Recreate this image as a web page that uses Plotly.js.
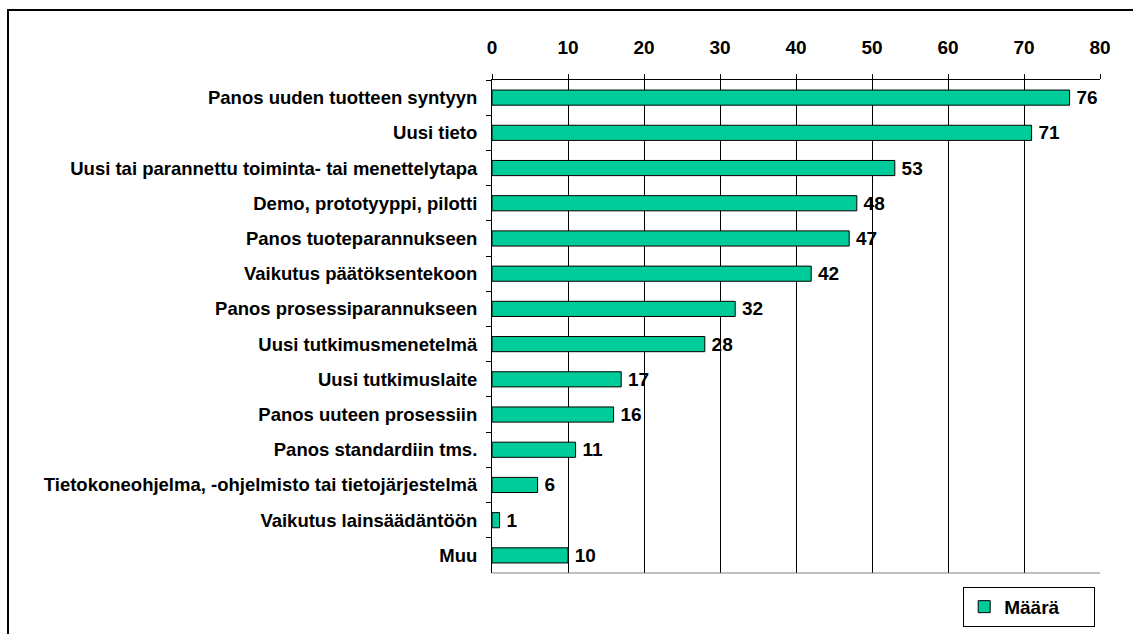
<!DOCTYPE html>
<html>
<head>
<meta charset="utf-8">
<script src="https://cdn.plot.ly/plotly-3.0.1.min.js"></script>
<style>
  html, body { margin: 0; background: #fff; overflow: hidden; }
  #myDiv { width: 1133px; height: 634px; }
  #frame { position: absolute; left: 7px; top: 9px; right: 0; bottom: 0;
           border-left: 2px solid #000; border-top: 2px solid #000; pointer-events: none; }
</style>
</head>
<body>
<div id="myDiv"></div>
<div id="frame"></div>
<script>
var categories = [
  'Panos uuden tuotteen syntyyn',
  'Uusi tieto',
  'Uusi tai parannettu toiminta- tai menettelytapa',
  'Demo, prototyyppi, pilotti',
  'Panos tuoteparannukseen',
  'Vaikutus päätöksentekoon',
  'Panos prosessiparannukseen',
  'Uusi tutkimusmenetelmä',
  'Uusi tutkimuslaite',
  'Panos uuteen prosessiin',
  'Panos standardiin tms.',
  'Tietokoneohjelma, -ohjelmisto tai tietojärjestelmä',
  'Vaikutus lainsäädäntöön',
  'Muu'
];
var counts = [76, 71, 53, 48, 47, 42, 32, 28, 17, 16, 11, 6, 1, 10];

var trace1 = {
  type: 'bar',
  orientation: 'h',
  name: 'Määrä',
  x: counts,
  y: categories,
  text: counts.map(function (v) { return '\u2009' + v; }),
  textposition: 'outside',
  constraintext: 'none',
  cliponaxis: false,
  textfont: { family: 'Liberation Sans, Arial', size: 19, color: '#000', weight: 'bold' },
  marker: { color: '#00CC99', line: { color: '#000', width: 1 } }
};

var layout = {
  width: 1133,
  height: 634,
  margin: { l: 492, r: 33, t: 80, b: 61, autoexpand: false },
  paper_bgcolor: '#fff',
  plot_bgcolor: '#fff',
  font: { family: 'Liberation Sans, Arial', size: 18, color: '#000', weight: 'bold' },
  bargap: 0.57,
  showlegend: true,
  legend: {
    orientation: 'h',
    x: 0.775, xanchor: 'left',
    y: -0.028, yanchor: 'top',
    bordercolor: '#000', borderwidth: 1,
    bgcolor: '#fff',
    font: { size: 19, weight: 'bold' },
    itemwidth: 30,
    entrywidth: 85
  },
  xaxis: {
    side: 'top',
    range: [0, 80],
    dtick: 10,
    showgrid: true,
    gridcolor: '#000',
    gridwidth: 1,
    showline: true,
    linecolor: '#000',
    linewidth: 1,
    ticks: 'outside',
    ticklen: 5,
    tickcolor: '#000',
    ticklabelstandoff: 12,
    tickfont: { size: 19, weight: 'bold' },
    zeroline: false,
    fixedrange: true
  },
  yaxis: {
    autorange: 'reversed',
    showline: true,
    linecolor: '#000',
    linewidth: 1,
    ticks: 'outside',
    tickson: 'boundaries',
    ticklen: 5,
    tickcolor: '#000',
    ticklabelstandoff: 10,
    tickfont: { size: 18.5, weight: 'bold' },
    showgrid: false,
    fixedrange: true
  },
  shapes: [
    { type: 'line', xref: 'paper', yref: 'paper', x0: 0, x1: 1, y0: 0, y1: 0,
      line: { color: '#808080', width: 1 } }
  ]
};

Plotly.newPlot('myDiv', [trace1], layout, { displayModeBar: false, staticPlot: true });
</script>
</body>
</html>
